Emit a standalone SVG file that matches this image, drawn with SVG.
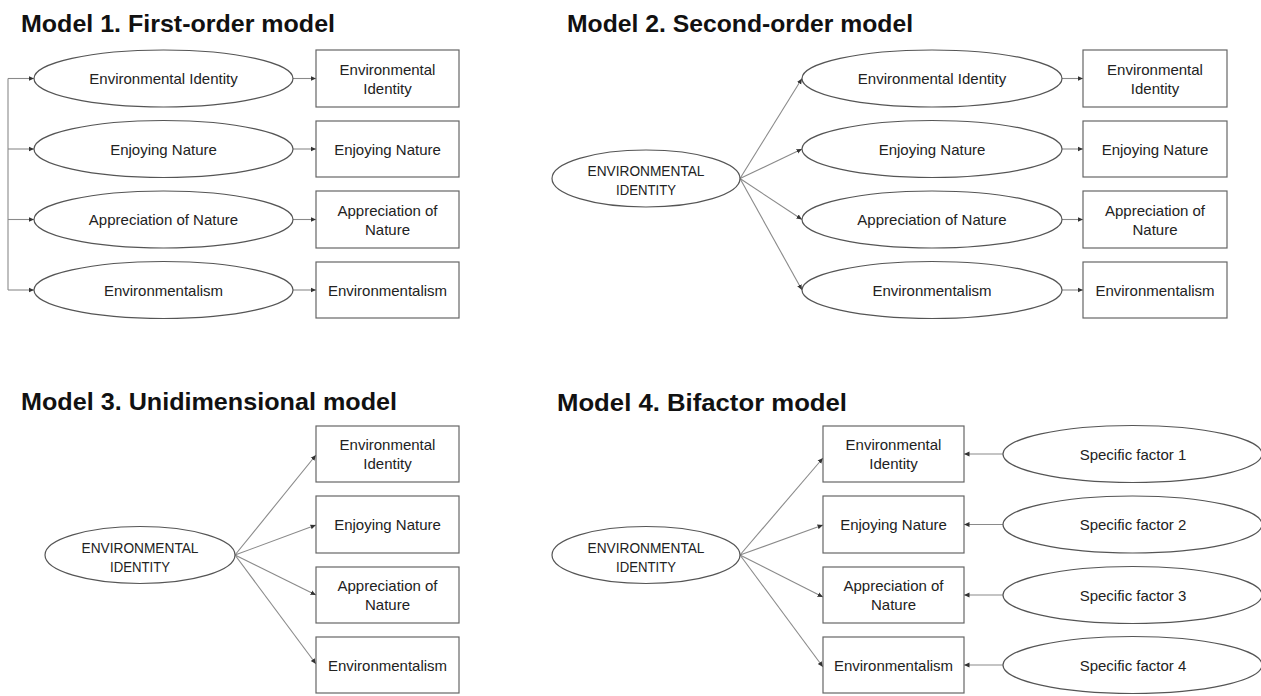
<svg xmlns="http://www.w3.org/2000/svg" width="1261" height="696" viewBox="0 0 1261 696">
<style>
.title{font-family:"Liberation Sans",Arial,sans-serif;font-weight:bold;font-size:24px;fill:#111}
.lbl{font-family:"Liberation Sans",Arial,sans-serif;font-size:15px;fill:#222;text-anchor:middle}
.ell{fill:#fff;stroke:#555;stroke-width:1.2}
.box{fill:#fff;stroke:#666;stroke-width:1.2}
.con{stroke:#8a8a8a;stroke-width:1.1;fill:none;marker-end:url(#ah)}
</style>
<defs>
<marker id="ah" markerUnits="userSpaceOnUse" markerWidth="6" markerHeight="6" refX="5.5" refY="3" orient="auto">
<path d="M0,0.6 L5.5,3 L0,5.4 z" fill="#333"/>
</marker>
</defs>
<rect width="1261" height="696" fill="#fff"/>

<text class="title" x="21" y="32" textLength="314" lengthAdjust="spacingAndGlyphs">Model 1. First-order model</text>
<text class="title" x="567" y="32" textLength="346" lengthAdjust="spacingAndGlyphs">Model 2. Second-order model</text>
<text class="title" x="21" y="410" textLength="376" lengthAdjust="spacingAndGlyphs">Model 3. Unidimensional model</text>
<text class="title" x="557" y="411" textLength="290" lengthAdjust="spacingAndGlyphs">Model 4. Bifactor model</text>

<g id="connectors">
<!-- Model 1 -->
<path d="M8,78.5 V290" stroke="#8a8a8a" stroke-width="1.1" fill="none"/>
<path class="con" d="M8,78.5 H34"/>
<path class="con" d="M8,149 H34"/>
<path class="con" d="M8,219.5 H34"/>
<path class="con" d="M8,290 H34"/>
<path class="con" d="M293,78.5 H316"/>
<path class="con" d="M293,149 H316"/>
<path class="con" d="M293,219.5 H316"/>
<path class="con" d="M293,290 H316"/>
<!-- Model 2 -->
<path class="con" d="M740,178.5 L802,78.5"/>
<path class="con" d="M740,178.5 L802,149"/>
<path class="con" d="M740,178.5 L802,219.5"/>
<path class="con" d="M740,178.5 L802,290"/>
<path class="con" d="M1062,78.5 H1083"/>
<path class="con" d="M1062,149 H1083"/>
<path class="con" d="M1062,219.5 H1083"/>
<path class="con" d="M1062,290 H1083"/>
<!-- Model 3 -->
<path class="con" d="M235,555 L316,455"/>
<path class="con" d="M235,555 L316,525"/>
<path class="con" d="M235,555 L316,595"/>
<path class="con" d="M235,555 L316,664"/>
<!-- Model 4 -->
<path class="con" d="M740,555 L823,458"/>
<path class="con" d="M740,555 L823,525"/>
<path class="con" d="M740,555 L823,597"/>
<path class="con" d="M740,555 L823,667"/>
<path class="con" d="M1003,454 H964"/>
<path class="con" d="M1003,524.5 H964"/>
<path class="con" d="M1003,595 H964"/>
<path class="con" d="M1003,665 H964"/>
</g>

<!-- Model 1 nodes -->
<g id="m1-l1"><ellipse class="ell" cx="163.5" cy="78.5" rx="129.5" ry="28.5"/><text class="lbl" x="163.5" y="84">Environmental Identity</text></g>
<g id="m1-l2"><ellipse class="ell" cx="163.5" cy="149" rx="129.5" ry="28.5"/><text class="lbl" x="163.5" y="154.5">Enjoying Nature</text></g>
<g id="m1-l3"><ellipse class="ell" cx="163.5" cy="219.5" rx="129.5" ry="28.5"/><text class="lbl" x="163.5" y="225">Appreciation of Nature</text></g>
<g id="m1-l4"><ellipse class="ell" cx="163.5" cy="290" rx="129.5" ry="28.5"/><text class="lbl" x="163.5" y="295.5">Environmentalism</text></g>
<g id="m1-o1"><rect class="box" x="316" y="50" width="143" height="57"/><text class="lbl" x="387.5" y="74.5">Environmental</text><text class="lbl" x="387.5" y="93.5">Identity</text></g>
<g id="m1-o2"><rect class="box" x="316" y="121" width="143" height="56"/><text class="lbl" x="387.5" y="154.5">Enjoying Nature</text></g>
<g id="m1-o3"><rect class="box" x="316" y="191" width="143" height="57"/><text class="lbl" x="387.5" y="215.5">Appreciation of</text><text class="lbl" x="387.5" y="234.5">Nature</text></g>
<g id="m1-o4"><rect class="box" x="316" y="262" width="143" height="56"/><text class="lbl" x="387.5" y="295.5">Environmentalism</text></g>

<!-- Model 2 nodes -->
<g id="m2-g"><ellipse class="ell" cx="646" cy="178.5" rx="94" ry="28.5"/><text class="lbl" x="646" y="176" textLength="117" lengthAdjust="spacingAndGlyphs">ENVIRONMENTAL</text><text class="lbl" x="646" y="195" textLength="60" lengthAdjust="spacingAndGlyphs">IDENTITY</text></g>
<g id="m2-l1"><ellipse class="ell" cx="932" cy="78.5" rx="130" ry="28.5"/><text class="lbl" x="932" y="84">Environmental Identity</text></g>
<g id="m2-l2"><ellipse class="ell" cx="932" cy="149" rx="130" ry="28.5"/><text class="lbl" x="932" y="154.5">Enjoying Nature</text></g>
<g id="m2-l3"><ellipse class="ell" cx="932" cy="219.5" rx="130" ry="28.5"/><text class="lbl" x="932" y="225">Appreciation of Nature</text></g>
<g id="m2-l4"><ellipse class="ell" cx="932" cy="290" rx="130" ry="28.5"/><text class="lbl" x="932" y="295.5">Environmentalism</text></g>
<g id="m2-o1"><rect class="box" x="1083" y="50" width="144" height="57"/><text class="lbl" x="1155" y="74.5">Environmental</text><text class="lbl" x="1155" y="93.5">Identity</text></g>
<g id="m2-o2"><rect class="box" x="1083" y="121" width="144" height="56"/><text class="lbl" x="1155" y="154.5">Enjoying Nature</text></g>
<g id="m2-o3"><rect class="box" x="1083" y="191" width="144" height="57"/><text class="lbl" x="1155" y="215.5">Appreciation of</text><text class="lbl" x="1155" y="234.5">Nature</text></g>
<g id="m2-o4"><rect class="box" x="1083" y="262" width="144" height="56"/><text class="lbl" x="1155" y="295.5">Environmentalism</text></g>

<!-- Model 3 nodes -->
<g id="m3-g"><ellipse class="ell" cx="140" cy="555" rx="95" ry="28.5"/><text class="lbl" x="140" y="552.5" textLength="117" lengthAdjust="spacingAndGlyphs">ENVIRONMENTAL</text><text class="lbl" x="140" y="571.5" textLength="60" lengthAdjust="spacingAndGlyphs">IDENTITY</text></g>
<g id="m3-o1"><rect class="box" x="316" y="426" width="143" height="56"/><text class="lbl" x="387.5" y="450">Environmental</text><text class="lbl" x="387.5" y="469">Identity</text></g>
<g id="m3-o2"><rect class="box" x="316" y="496" width="143" height="57"/><text class="lbl" x="387.5" y="530">Enjoying Nature</text></g>
<g id="m3-o3"><rect class="box" x="316" y="567" width="143" height="56"/><text class="lbl" x="387.5" y="591">Appreciation of</text><text class="lbl" x="387.5" y="610">Nature</text></g>
<g id="m3-o4"><rect class="box" x="316" y="637" width="143" height="56"/><text class="lbl" x="387.5" y="670.5">Environmentalism</text></g>

<!-- Model 4 nodes -->
<g id="m4-g"><ellipse class="ell" cx="646" cy="555" rx="94" ry="28.5"/><text class="lbl" x="646" y="552.5" textLength="117" lengthAdjust="spacingAndGlyphs">ENVIRONMENTAL</text><text class="lbl" x="646" y="571.5" textLength="60" lengthAdjust="spacingAndGlyphs">IDENTITY</text></g>
<g id="m4-o1"><rect class="box" x="823" y="426" width="141" height="56"/><text class="lbl" x="893.5" y="450">Environmental</text><text class="lbl" x="893.5" y="469">Identity</text></g>
<g id="m4-o2"><rect class="box" x="823" y="496" width="141" height="57"/><text class="lbl" x="893.5" y="530">Enjoying Nature</text></g>
<g id="m4-o3"><rect class="box" x="823" y="567" width="141" height="56"/><text class="lbl" x="893.5" y="591">Appreciation of</text><text class="lbl" x="893.5" y="610">Nature</text></g>
<g id="m4-o4"><rect class="box" x="823" y="637" width="141" height="56"/><text class="lbl" x="893.5" y="670.5">Environmentalism</text></g>
<g id="m4-s1"><ellipse class="ell" cx="1132.5" cy="454" rx="129.5" ry="28.5"/><text class="lbl" x="1133" y="459.5">Specific factor 1</text></g>
<g id="m4-s2"><ellipse class="ell" cx="1132.5" cy="524.5" rx="129.5" ry="28.5"/><text class="lbl" x="1133" y="530">Specific factor 2</text></g>
<g id="m4-s3"><ellipse class="ell" cx="1132.5" cy="595" rx="129.5" ry="28.5"/><text class="lbl" x="1133" y="600.5">Specific factor 3</text></g>
<g id="m4-s4"><ellipse class="ell" cx="1132.5" cy="665" rx="129.5" ry="28.5"/><text class="lbl" x="1133" y="670.5">Specific factor 4</text></g>
</svg>
